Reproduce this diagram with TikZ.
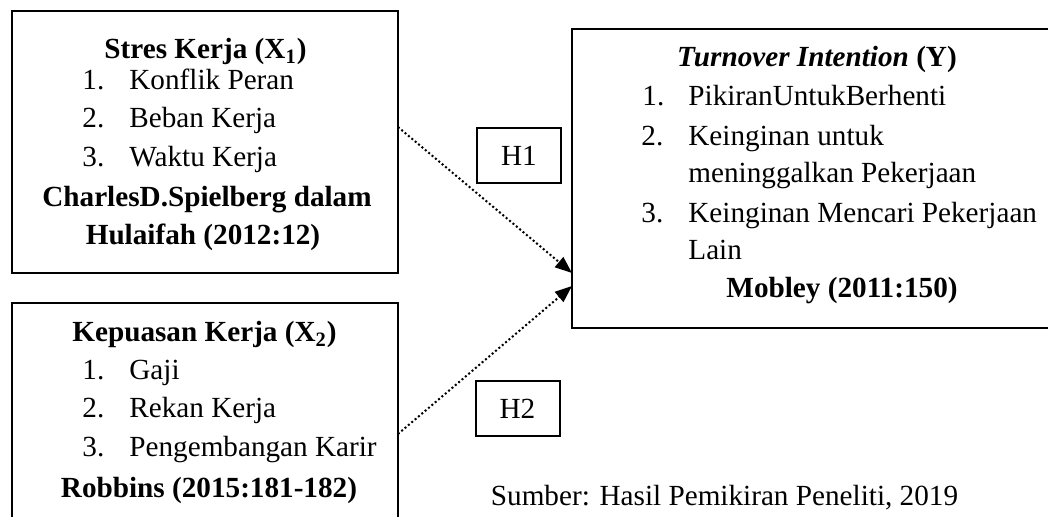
\documentclass[tikz,border=0pt]{standalone}
\usepackage{fontspec}
\setmainfont{Liberation Serif}
\usetikzlibrary{arrows.meta}
\newcommand{\fsz}{\fontsize{14.6}{17.5}\selectfont}
\newcommand{\itemno}[2][23.5pt]{\makebox[#1][l]{#2}}
\tikzset{
  varbox/.style={rectangle, draw=black, line width=1pt,
    outer sep=0pt, inner sep=0pt},
  hbox/.style={rectangle, draw=black, line width=1pt,
    outer sep=0pt, inner sep=0pt,
    minimum width=42pt, minimum height=27.5pt, font=\fsz},
  txt/.style={inner sep=0pt, anchor=base, font=\fsz},
  item/.style={inner sep=0pt, anchor=base west, font=\fsz},
  hyp/.style={-{Triangle[length=8.5pt,width=6.5pt]}, line width=1pt,
    dash pattern=on 1pt off 1.2pt},
}

\begin{document}
\begin{tikzpicture}[x=0.5pt, y=-0.5pt]
  \useasboundingbox (0,0) rectangle (1048,517);
  \clip (0,0) rectangle (1048,517);

  % variable boxes
  \node[varbox, anchor=north west, minimum width=193pt, minimum height=131pt]
    (x1) at (12,11) {};
  \node[varbox, anchor=north west, minimum width=193pt, minimum height=130pt]
    (x2) at (12,303) {};
  \node[varbox, anchor=north west, minimum width=246pt, minimum height=149.5pt]
    (y) at (572,29) {};

  % Stres Kerja
  \node[txt] (x1head) at (205.5,59) {\textbf{Stres Kerja (X\textsubscript{1})}};
  \node[item] (x1a) at (82,90) {\itemno{1.}Konflik Peran};
  \node[item] (x1b) at (82,128) {\itemno{2.}Beban Kerja};
  \node[item] (x1c) at (82,167) {\itemno{3.}Waktu Kerja};
  \node[txt] (x1src) at (207,207) {\textbf{CharlesD.Spielberg dalam}};
  \node[txt] (x1src2) at (203,245) {\textbf{Hulaifah (2012:12)}};

  % Kepuasan Kerja
  \node[txt] (x2head) at (204.5,342) {\textbf{Kepuasan Kerja (X\textsubscript{2})}};
  \node[item] (x2a) at (82,380) {\itemno{1.}Gaji};
  \node[item] (x2b) at (82,418) {\itemno{2.}Rekan Kerja};
  \node[item] (x2c) at (82,457) {\itemno{3.}Pengembangan Karir};
  \node[txt] (x2src) at (209,497) {\textbf{Robbins (2015:181-182)}};

  % Turnover Intention
  \node[txt] (yhead) at (817,67) {\textbf{\textit{Turnover Intention} (Y)}};
  \node[item] (ya) at (642,106) {\itemno[23pt]{1.}PikiranUntukBerhenti};
  \node[item] (yb) at (641,146) {\itemno{2.}Keinginan untuk};
  \node[item] (yb2) at (688,183) {meninggalkan Pekerjaan};
  \node[item] (yc) at (641,223) {\itemno{3.}Keinginan Mencari Pekerjaan};
  \node[item] (yc2) at (688,260) {Lain};
  \node[txt] (ysrc) at (842,298) {\textbf{Mobley (2011:150)}};

  % hypotheses
  \node[hbox] (h1) at (519,155.5) {H1};
  \node[hbox] (h2) at (517.5,408.5) {H2};

  \draw[hyp] ([yshift=7.5pt]x1.east) -- ([yshift=27.5pt]y.south west);
  \draw[hyp] ([yshift=-65.5pt]x2.north east) -- ([yshift=21pt]y.south west);

  \node[txt] (sumber) at (724.5,505) {Sumber: Hasil Pemikiran Peneliti, 2019};
\end{tikzpicture}
\end{document}
